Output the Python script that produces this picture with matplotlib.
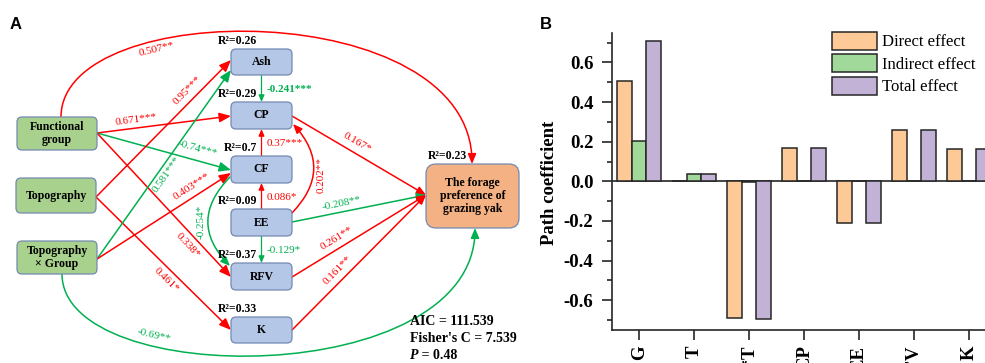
import numpy as np
import matplotlib.pyplot as plt
from matplotlib.patches import FancyBboxPatch, FancyArrowPatch
from matplotlib.path import Path
from matplotlib.ticker import MultipleLocator, FormatStrFormatter

plt.rcParams['font.family'] = 'Liberation Serif'
plt.rcParams['axes.unicode_minus'] = False

# ---- panel B data: effects on forage preference
factors = ['G', 'T', 'G*T', 'CP', 'EE', 'RFV', 'K']
direct = [0.507, 0.0, -0.69, 0.167, -0.208, 0.261, 0.161]
indirect = [0.203, 0.035, -0.005, 0.0, 0.0, 0.0, 0.0]
total = [0.71, 0.035, -0.695, 0.167, -0.208, 0.261, 0.161]

# ---- panel A data: SEM paths (from, to, coefficient, sign colour)
r2 = {'Ash': '0.26', 'CP': '0.29', 'CF': '0.7', 'EE': '0.09',
      'RFV': '0.37', 'K': '0.33', 'Y': '0.23'}
paths = [
    ('FG', 'CP', '0.671***', 'pos'),
    ('FG', 'CF', '-0.74***', 'neg'),
    ('FG', 'RFV', '0.338*', 'pos'),
    ('Topo', 'Ash', '0.95***', 'pos'),
    ('Topo', 'K', '0.461*', 'pos'),
    ('TxG', 'Ash', '0.581***', 'neg'),
    ('TxG', 'CF', '0.403***', 'pos'),
    ('CP', 'Y', '0.167*', 'pos'),
    ('EE', 'Y', '-0.208**', 'neg'),
    ('RFV', 'Y', '0.261**', 'pos'),
    ('K', 'Y', '0.161**', 'pos'),
]
vert_paths = [
    ('Ash', 'CP', '-0.241***', 'neg'),
    ('CF', 'CP', '0.37***', 'pos'),
    ('EE', 'CF', '0.086*', 'pos'),
    ('EE', 'RFV', '-0.129*', 'neg'),
]
curved_paths = [
    ('EE', 'CP', '0.202**', 'pos'),
    ('CF', 'RFV', '-0.254*', 'neg'),
]
long_paths = [
    ('FG', 'Y', '0.507**', 'pos'),
    ('TxG', 'Y', '-0.69**', 'neg'),
]
fit_stats = ['AIC = 111.539', "Fisher's C = 7.539"]
p_value = '0.48'

RED = '#ff0000'
GREEN = '#00b050'
col = {'pos': RED, 'neg': GREEN}

# box layout in pixels (x0, y0, x1, y1)
boxes = {
    'FG': (17, 117, 97, 150), 'Topo': (16, 178, 96, 213), 'TxG': (17, 241, 97, 274),
    'Ash': (231, 49, 292, 75), 'CP': (231, 102, 292, 129), 'CF': (231, 156, 292, 183),
    'EE': (231, 209, 292, 236), 'RFV': (231, 263, 292, 290), 'K': (231, 317, 292, 343),
    'Y': (426, 164, 519, 228),
}
names = {'FG': 'Functional\ngroup', 'Topo': 'Topography', 'TxG': 'Topography\n× Group',
         'Ash': 'Ash', 'CP': 'CP', 'CF': 'CF', 'EE': 'EE', 'RFV': 'RFV', 'K': 'K',
         'Y': 'The forage\npreference of\ngrazing yak'}

fig = plt.figure(figsize=(9.85, 3.63), dpi=100)
ax = fig.add_axes([0, 0, 1, 1])
ax.set_xlim(0, 985)
ax.set_ylim(363, 0)
ax.axis('off')


def arrow(p0, p1, c, hl=7, hw=2.9, lw=1.1, **kw):
    a = FancyArrowPatch(p0, p1, arrowstyle=f'-|>,head_length={hl},head_width={hw}',
                        mutation_scale=1, color=c, lw=lw, shrinkA=0, shrinkB=0,
                        zorder=2, **kw)
    ax.add_patch(a)


def along(p0, p1, t, off):
    p0 = np.array(p0, float)
    d = np.array(p1, float) - p0
    u = d / np.hypot(*d)
    n = np.array([u[1], -u[0]])
    pos = p0 + t * d + off * n
    return pos, -np.degrees(np.arctan2(d[1], d[0]))


def bez(pts, t):
    p = np.array(pts, float)
    pt = ((1 - t) ** 3) * p[0] + 3 * (1 - t) ** 2 * t * p[1] + 3 * (1 - t) * t ** 2 * p[2] + t ** 3 * p[3]
    dt = 3 * (1 - t) ** 2 * (p[1] - p[0]) + 6 * (1 - t) * t * (p[2] - p[1]) + 3 * t ** 2 * (p[3] - p[2])
    return pt, dt


# boxes
for k, (x0, y0, x1, y1) in boxes.items():
    if k in ('FG', 'Topo', 'TxG'):
        fc = '#a9d18e'
    elif k == 'Y':
        fc = '#f4b183'
    else:
        fc = '#b4c7e7'
    rs = 10 if k == 'Y' else 5
    ax.add_patch(FancyBboxPatch((x0, y0), x1 - x0, y1 - y0,
                                boxstyle=f'round,pad=0,rounding_size={rs}',
                                fc=fc, ec='#7489b0', lw=0.9, zorder=3))
    ax.text((x0 + x1) / 2, (y0 + y1) / 2, names[k], ha='center', va='center',
            fontsize=8.5, fontweight='bold', linespacing=1.1, zorder=4)
    if k in r2:
        if k == 'Y':
            ax.text(x0 + 2, y0 - 8, 'R²=' + r2[k], ha='left', va='center',
                    fontsize=8.5, fontweight='bold')
        else:
            ax.text(257, y0 - 8, 'R²=' + r2[k], ha='right', va='center',
                    fontsize=8.5, fontweight='bold')

# straight paths: (start, end, label t, label offset)
line_geo = {
    ('FG', 'CP'): ((97, 133), (231, 116), 0.30, 8),
    ('FG', 'CF'): ((97, 133), (231, 170), 0.73, 12),
    ('FG', 'RFV'): ((97, 133), (231, 277), 0.73, -10),
    ('Topo', 'Ash'): ((96, 197), (231, 60), 0.73, 10),
    ('Topo', 'K'): ((96, 197), (231, 330), 0.57, -10),
    ('TxG', 'Ash'): ((97, 259), (231, 70), 0.47, -8),
    ('TxG', 'CF'): ((97, 259), (231, 173), 0.745, 10),
    ('CP', 'Y'): ((292, 116), (426, 195), 0.45, 10),
    ('EE', 'Y'): ((292, 222), (426, 195), 0.38, 8),
    ('RFV', 'Y'): ((292, 277), (426, 195), 0.37, 9.5),
    ('K', 'Y'): ((292, 330), (426, 195), 0.39, 9.5),
}
for src, dst, lab, s in paths:
    p0, p1, t, off = line_geo[(src, dst)]
    small = dst == 'Y'
    arrow(p0, p1, col[s], hl=5.5 if small else 7, hw=2.3 if small else 2.9)
    pos, ang = along(p0, p1, t, off)
    ax.text(pos[0], pos[1], lab, color=col[s], fontsize=8, rotation=ang,
            rotation_mode='anchor', ha='center', va='center')

# short vertical paths between nutrient boxes
for src, dst, lab, s in vert_paths:
    xs = (boxes[src][0] + boxes[src][2]) / 2
    if boxes[src][1] < boxes[dst][1]:
        y0, y1 = boxes[src][3], boxes[dst][1]
    else:
        y0, y1 = boxes[src][1], boxes[dst][3]
    arrow((xs, y0), (xs, y1), col[s], hl=4, hw=1.7, lw=0.9)
    ax.text(267, (y0 + y1) / 2 + 1, lab, color=col[s], fontsize=8, ha='left', va='center',
            fontweight='bold' if lab == '-0.241***' else 'normal')

# curved paths beside the boxes
curve_geo = {
    ('EE', 'CP'): ((292, 213), (293, 124), 0.47, (321, 175)),
    ('CF', 'RFV'): ((230, 177), (230, 266), 0.49, (201, 222)),
}
for src, dst, lab, s in curved_paths:
    p0, p1, rad, lp = curve_geo[(src, dst)]
    arrow(p0, p1, col[s], hl=5.5, hw=2.3, connectionstyle=f'arc3,rad={rad}')
    ax.text(lp[0], lp[1], lab, color=col[s], fontsize=8, rotation=90,
            ha='center', va='center')

# long arcs to the forage preference box
arc_geo = {
    ('FG', 'Y'): ([(61, 117), (61, -4), (472, -4), (472, 164)], 0.31, -9),
    ('TxG', 'Y'): ([(62, 274), (62, 390), (475, 390), (475, 228)], 0.30, 10),
}
for src, dst, lab, s in long_paths:
    pts, t, off = arc_geo[(src, dst)]
    pth = Path(pts, [Path.MOVETO, Path.CURVE4, Path.CURVE4, Path.CURVE4])
    a = FancyArrowPatch(path=pth, arrowstyle='-|>,head_length=6,head_width=2.5',
                        mutation_scale=1, color=col[s], lw=1.1, zorder=2)
    ax.add_patch(a)
    pt, d = bez(pts, t)
    u = d / np.hypot(*d)
    pos = pt + off * np.array([u[1], -u[0]])
    ang = -np.degrees(np.arctan2(d[1], d[0]))
    ax.text(pos[0], pos[1], lab, color=col[s], fontsize=8, rotation=ang,
            rotation_mode='anchor', ha='center', va='center')

# model fit
for i, s in enumerate(fit_stats):
    ax.text(410, 325 + 17 * i, s, fontsize=10, fontweight='bold', ha='left', va='baseline')
tp = ax.text(410, 359, 'P', fontsize=10, fontweight='bold', style='italic',
             ha='left', va='baseline')
ax.annotate(' = ' + p_value, xy=(1, 0), xycoords=tp, fontsize=10, fontweight='bold',
            ha='left', va='bottom')

fig.text(10 / 985, 1 - 17 / 363, 'A', family='Liberation Sans', fontweight='bold',
         fontsize=12, va='top')
fig.text(540 / 985, 1 - 17 / 363, 'B', family='Liberation Sans', fontweight='bold',
         fontsize=12, va='top')

# ---- panel B
axb = fig.add_axes([611.7 / 985, 33 / 363, 385 / 985, 297.3 / 363])
axb.patch.set_alpha(0)
x = np.arange(len(factors))
w = 0.265
ec = '#262626'
b1 = axb.bar(x - w, direct, w, color='#fdc997', edgecolor=ec, lw=1.1, label='Direct effect', zorder=2)
b2 = axb.bar(x, indirect, w, color='#a1d99b', edgecolor=ec, lw=1.1, label='Indirect effect', zorder=2)
b3 = axb.bar(x + w, total, w, color='#c2b2d6', edgecolor=ec, lw=1.1, label='Total effect', zorder=2)
axb.axhline(0, color=ec, lw=1.2, zorder=1)
axb.set_xlim(-0.5, 6.5)
axb.set_ylim(-0.75, 0.75)
for sp in ('top', 'right'):
    axb.spines[sp].set_visible(False)
for sp in ('left', 'bottom'):
    axb.spines[sp].set_linewidth(1.2)
    axb.spines[sp].set_color(ec)
axb.yaxis.set_major_locator(MultipleLocator(0.2))
axb.yaxis.set_minor_locator(MultipleLocator(0.1))
axb.yaxis.set_major_formatter(FormatStrFormatter('%.1f'))
axb.tick_params(axis='y', which='major', length=7.2, width=1.2, pad=6, labelsize=13.5, color=ec)
axb.tick_params(axis='y', which='minor', length=3.6, width=1.2, color=ec)
axb.tick_params(axis='x', length=7.2, width=1.2, pad=4, labelsize=13.5, color=ec)
axb.set_xticks(x)
axb.set_xticklabels(factors, rotation=90, fontweight='bold')
for lb in axb.get_yticklabels():
    lb.set_fontweight('bold')
axb.set_ylabel('Path coefficient', fontsize=13.5, fontweight='bold')
axb.yaxis.set_label_coords(-0.139, 0.495)
axb.legend(handles=[b1, b2, b3], loc='upper left', bbox_to_anchor=(832 / 985, 1 - 32 / 363),
           bbox_transform=fig.transFigure, frameon=False, fontsize=12, handlelength=2.7,
           handleheight=1.26, labelspacing=0.24, handletextpad=0.3, borderpad=0,
           borderaxespad=0)

fig.savefig('out.png', dpi=100)
